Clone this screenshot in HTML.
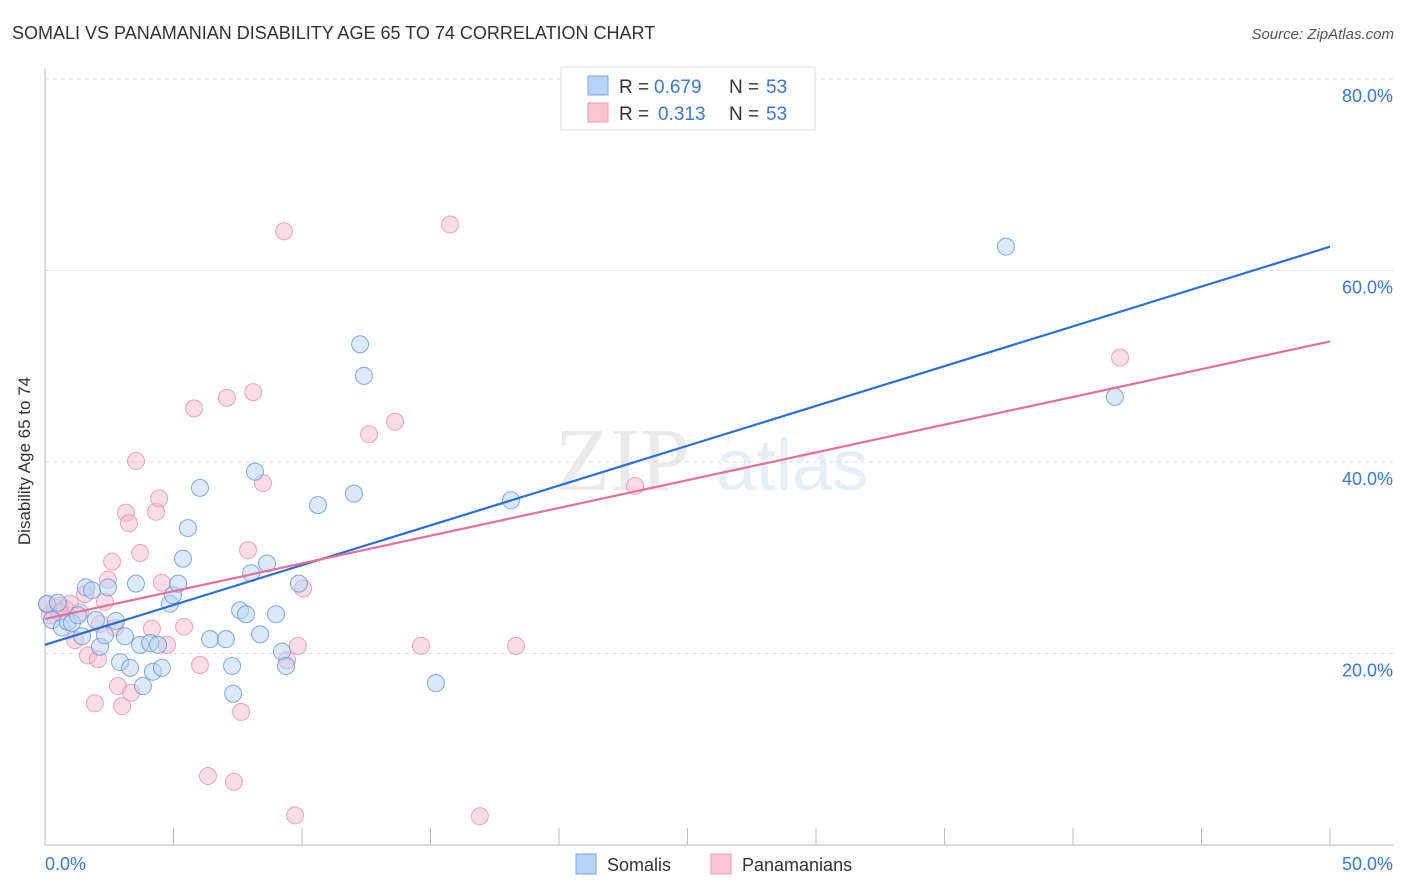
<!DOCTYPE html>
<html><head><meta charset="utf-8"><style>
body{margin:0;background:#fff;font-family:"Liberation Sans",sans-serif}
svg{display:block}
</style></head><body>
<svg width="1406" height="892" xmlns="http://www.w3.org/2000/svg">
<text x="12" y="39" font-size="18" fill="#333">SOMALI VS PANAMANIAN DISABILITY AGE 65 TO 74 CORRELATION CHART</text>
<text x="1394" y="39" font-size="15" fill="#555" font-style="italic" text-anchor="end">Source: ZipAtlas.com</text>
<g opacity="0.13"><text x="555" y="490" font-size="90" font-family="Liberation Serif,serif" fill="#666">ZIP</text><text x="716" y="490" font-size="72" fill="#4a7fd0">atlas</text></g>
<g id="grid"></g>
<g id="axes"></g>
<g id="pts"></g>
<g id="lines"></g>
<text x="24" y="455" font-size="17" fill="#333" transform="rotate(-90 30 455)" text-anchor="middle">Disability Age 65 to 74</text>
<g font-size="19">
<rect x="561" y="67" width="254" height="63" fill="#fff" stroke="#ddd"/>
<rect x="588" y="76" width="20" height="19" fill="#b8d3f5" stroke="#7aa8e6"/>
<rect x="588" y="103" width="20" height="19" fill="#f9c6d5" stroke="#ee9ab4"/>
<text x="619" y="93" fill="#333">R =</text><text x="654" y="93" fill="#3b78d8">0.679</text>
<text x="729" y="93" fill="#333">N =</text><text x="766" y="93" fill="#3b78d8">53</text>
<text x="619" y="120" fill="#333">R =</text><text x="658" y="120" fill="#3b78d8">0.313</text>
<text x="729" y="120" fill="#333">N =</text><text x="766" y="120" fill="#3b78d8">53</text>
</g>
<g>
<rect x="576" y="854" width="20" height="20" fill="#b8d3f5" stroke="#7aa8e6"/>
<text x="607" y="871" font-size="18" fill="#333">Somalis</text>
<rect x="711" y="854" width="20" height="20" fill="#f9c6d5" stroke="#ee9ab4"/>
<text x="742" y="871" font-size="18" fill="#333">Panamanians</text>
</g>
</svg>
<script>
const somaliX=[0.08,0.27,0.5,0.66,0.89,1.05,1.28,1.44,1.59,1.83,1.98,2.14,2.33,2.45,2.76,2.92,3.11,3.31,3.54,3.70,3.81,4.09,4.20,4.40,4.55,4.86,4.98,5.18,5.37,5.56,6.03,6.42,7.04,7.28,7.32,7.59,7.82,8.02,8.17,8.37,8.64,8.99,9.22,9.38,9.88,10.62,12.02,12.26,12.41,15.21,18.13,37.39,41.63];
const somaliY=[25.2,23.5,25.3,22.7,23.3,23.2,24.0,21.8,26.9,26.6,23.5,20.7,21.9,26.9,23.4,19.1,21.8,18.5,27.3,20.9,16.6,21.1,18.1,20.9,18.5,25.2,26.1,27.3,29.9,33.1,37.3,21.5,21.5,18.7,15.8,24.5,24.1,28.4,39.0,22.0,29.4,24.1,20.2,18.7,27.3,35.5,36.7,52.3,49.0,16.9,36.0,62.5,46.8];
const panX=[0.08,0.19,0.39,0.58,0.78,0.97,1.17,1.36,1.56,1.67,1.94,2.06,2.33,2.45,2.61,2.72,2.84,3.0,3.15,3.27,3.35,3.54,3.70,4.16,4.32,4.44,4.55,4.75,5.41,5.80,6.03,6.34,7.08,7.35,7.63,7.90,8.10,8.48,9.30,9.42,9.73,9.84,10.04,12.61,13.62,14.63,15.76,16.92,18.33,22.96,41.83,0.58,2.14];
const panY=[25.1,24.0,24.8,25.0,24.7,25.2,21.4,24.3,26.2,19.8,14.8,19.4,25.4,27.7,29.6,22.7,16.6,14.5,34.7,33.6,15.9,40.1,30.5,22.6,34.8,36.2,27.4,20.9,22.8,45.6,18.8,7.2,46.7,6.6,13.9,30.8,47.3,37.8,64.1,19.3,3.1,20.8,26.8,42.9,44.2,20.8,64.8,3.0,20.8,37.5,50.9,24.3,23.1];
const X0=45,X1=1330,Y0=845,PXY=191.5/20;
const sx=v=>X0+(v/50)*(X1-X0), sy=v=>Y0-v*PXY;
const NS='http://www.w3.org/2000/svg';
function mk(t,a,p){const e=document.createElementNS(NS,t);for(const k in a)e.setAttribute(k,a[k]);p.appendChild(e);return e;}
const grid=document.getElementById('grid'),axes=document.getElementById('axes');
const yTicks=[20,40,60,80],yTickLabels=['20.0%','40.0%','60.0%','80.0%'];
yTicks.forEach((t,i)=>{
 const l=mk('line',{x1:X0,x2:1393,y1:sy(t),y2:sy(t),stroke:'#ddd','stroke-dasharray':'4,4'},grid);
 
 
 const tx=mk('text',{x:1393,y:sy(t)+23,'font-size':18,fill:'#3b78d8','text-anchor':'end'},axes);tx.textContent=yTickLabels[i];
 
 
});
const al=mk('line',{x1:X0,x2:X0,y1:68,y2:Y0,stroke:'#bbb'},axes);


const bl=mk('line',{x1:X0,x2:1393,y1:Y0,y2:Y0,stroke:'#bbb'},axes);


for(let i=0;i<=10;i++){const t=mk('line',{x1:sx(i*5),x2:sx(i*5),y1:828,y2:Y0,stroke:'#bbb'},axes);
 
 }
const xTickLabels=['0.0%','50.0%'];
[[0,'start',45],[50,'end',1393]].forEach((d,i)=>{const t=mk('text',{x:d[2],y:870,'font-size':18,fill:'#3b78d8','text-anchor':d[1]},axes);t.textContent=xTickLabels[i];
 
 });
const pts=document.getElementById('pts'),lines=document.getElementById('lines');
function series(xs,ys,fill,stroke,name){
 xs.forEach((x,i)=>{const c=mk('circle',{cx:sx(x),cy:sy(ys[i]),r:8.5,fill:fill,'fill-opacity':0.5,stroke:stroke,'stroke-opacity':0.75,'stroke-width':1},pts);
  
  });
}
function reg(xs,ys,color,name){
 const n=xs.length;let mx=0,my=0;xs.forEach((x,i)=>{mx+=x;my+=ys[i]});mx/=n;my/=n;
 let sxy=0,sxx=0;xs.forEach((x,i)=>{sxy+=(x-mx)*(ys[i]-my);sxx+=(x-mx)**2});
 const b=sxy/sxx,a=my-b*mx;
 const l=mk('line',{x1:sx(0),y1:sy(a),x2:sx(50),y2:sy(a+b*50),stroke:color,'stroke-width':2.2},lines);
 
 
}
series(panX,panY,'#f6bccd','#e98aa8','panamanian');
series(somaliX,somaliY,'#b8d3f5','#5b8fdc','somali');
reg(somaliX,somaliY,'#2a6fd6','somali');
reg(panX,panY,'#e5709a','panamanian');
</script>
</body></html>
